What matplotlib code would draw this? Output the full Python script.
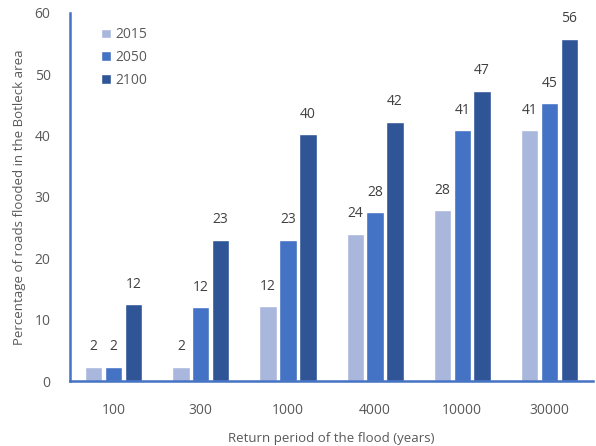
import matplotlib
matplotlib.use("Agg")
import matplotlib.pyplot as plt
import numpy as np

categories = ["100", "300", "1000", "4000", "10000", "30000"]
series_names = ["2015", "2050", "2100"]
v2015 = [2.3, 2.3, 12.2, 24.0, 27.8, 40.9]
v2050 = [2.3, 12.0, 23.0, 27.5, 40.9, 45.3]
v2100 = [12.5, 23.0, 40.2, 42.3, 47.3, 55.8]
labels2015 = ["2", "2", "12", "24", "28", "41"]
labels2050 = ["2", "12", "23", "28", "41", "45"]
labels2100 = ["12", "23", "40", "42", "47", "56"]

colors = ["#A9B7DC", "#4472C4", "#2F5597"]
plt.rcParams['font.family'] = ['Open Sans', 'DejaVu Sans']

fig = plt.figure(figsize=(5.96, 4.46), dpi=100)
ax = fig.add_axes([0.1175, 0.1457, 0.8775, 0.8252])

x = np.arange(len(categories))
step = 0.228
w = 0.2
vals = [v2015, v2050, v2100]
labs = [labels2015, labels2050, labels2100]
for i, (name, v, lab, c) in enumerate(zip(series_names, vals, labs, colors)):
    pos = x + (i - 1) * step
    ax.bar(pos, v, width=w, color=c, edgecolor="white", linewidth=1.0, label=name)
    for p, val, t in zip(pos, v, lab):
        ax.annotate(t, (p, val), xytext=(0, 9), textcoords="offset points",
                    ha="center", va="bottom", fontsize=10, color="#404040")

ax.set_xlim(-0.5, len(categories) - 0.5)
ax.set_ylim(0, 60)
ax.set_yticks(range(0, 61, 10))
ax.set_xticks(x)
ax.set_xticklabels(categories)
ax.tick_params(axis="both", length=0, labelsize=10, labelcolor="#595959")
ax.tick_params(axis="x", pad=16)
ax.tick_params(axis="y", pad=14)

for s in ["top", "right"]:
    ax.spines[s].set_visible(False)
for s in ["left", "bottom"]:
    ax.spines[s].set_color("#4472C4")
    ax.spines[s].set_linewidth(1.8)

ax.set_ylabel("Percentage of roads flooded in the Botleck area", fontsize=9.5, color="#595959", labelpad=6)
ax.set_xlabel("Return period of the flood (years)", fontsize=9.5, color="#595959", labelpad=10)

leg = ax.legend(loc="upper left", bbox_to_anchor=(0.035, 0.995), frameon=False,
                fontsize=10, handlelength=0.7, handleheight=0.7, handletextpad=0.35,
                labelspacing=0.55, labelcolor="#595959")

fig.savefig("out.png", dpi=100)
